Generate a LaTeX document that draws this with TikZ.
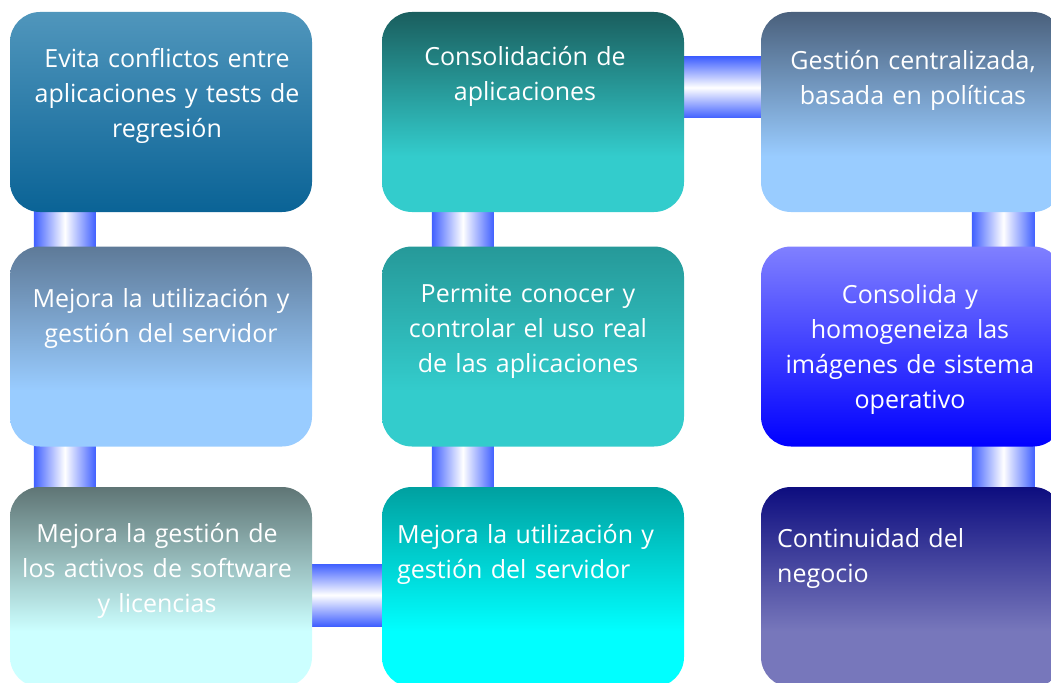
\documentclass[tikz,border=0pt]{standalone}
\usepackage{fontspec}
\setmainfont{Open Sans}
\usetikzlibrary{calc}
\pgfdeclarelayer{bg}
\pgfsetlayers{bg,main}
\definecolor{conn}{RGB}{64,96,255}
\definecolor{aT}{RGB}{80,150,188}\definecolor{aB}{RGB}{10,99,150}
\definecolor{bT}{RGB}{26,94,94}\definecolor{bB}{RGB}{51,204,204}
\definecolor{cT}{RGB}{74,96,124}\definecolor{cB}{RGB}{153,204,255}
\definecolor{dT}{RGB}{94,122,152}\definecolor{dB}{RGB}{153,204,255}
\definecolor{eT}{RGB}{38,153,153}\definecolor{eB}{RGB}{51,204,204}
\definecolor{fT}{RGB}{128,128,255}\definecolor{fB}{RGB}{0,0,255}
\definecolor{gT}{RGB}{95,117,117}\definecolor{gB}{RGB}{204,255,255}
\definecolor{hT}{RGB}{0,160,160}\definecolor{hB}{RGB}{0,255,255}
\definecolor{iT}{RGB}{13,13,127}\definecolor{iB}{RGB}{119,119,187}
\colorlet{boxtop}{aT}\colorlet{boxbot}{aB}
\pgfdeclareverticalshading[boxtop,boxbot]{boxsh}{100bp}{%
  color(0bp)=(boxbot); color(25bp)=(boxbot); color(39bp)=(boxbot);
  color(75bp)=(boxtop); color(100bp)=(boxtop)}
\tikzset{
  box/.style={rounded corners=30pt, minimum width=302pt, minimum height=200pt, inner sep=0pt, draw=none},
  fill2/.style 2 args={/utils/exec={\colorlet{boxtop}{#1}\colorlet{boxbot}{#2}}, shading=boxsh},
  lbl/.style={text=white, font=\fontsize{25}{35}\selectfont, inner sep=0pt, text width=300pt, align=center, anchor=base},
  lbll/.style={text=white, font=\fontsize{25}{35}\selectfont, inner sep=0pt, text width=290pt, align=left, anchor=base west},
  vconn/.style={left color=conn, right color=conn, middle color=white},
  hconn/.style={top color=conn, bottom color=conn, middle color=white}
}
\begin{document}
\begin{tikzpicture}[x=1pt,y=-1pt]
\useasboundingbox (0,0) rectangle (1051,682);
\clip (0,0) rectangle (1051,682);
% boxes
\node[box, top color=aT, bottom color=aB] (b1) at (161,112) {};
\node[box, fill2={bT}{bB}] (b2) at (533,112) {};
\node[box, fill2={cT}{cB}] (b3) at (912,112) {};
\node[box, fill2={dT}{dB}] (b4) at (161,346.5) {};
\node[box, fill2={eT}{eB}] (b5) at (533,346.5) {};
\node[box, top color=fT, bottom color=fB] (b6) at (912,346.5) {};
\node[box, fill2={gT}{gB}] (b7) at (161,587) {};
\node[box, fill2={hT}{hB}] (b8) at (533,587) {};
\node[box, fill2={iT}{iB}] (b9) at (912,587) {};
% connectors
\begin{pgfonlayer}{bg}
\path[vconn] ($(b1.south west)+(24,-5)$) rectangle ($(b4.north west)+(86,5)$);
\path[vconn] ($(b4.south west)+(24,-5)$) rectangle ($(b7.north west)+(86,5)$);
\path[hconn] ($(b7.east)+(-5,-23)$) rectangle ($(b8.west)+(5,39)$);
\path[vconn] ($(b8.north west)+(50,5)$) rectangle ($(b5.south west)+(112,-5)$);
\path[vconn] ($(b5.north west)+(50,5)$) rectangle ($(b2.south west)+(112,-5)$);
\path[hconn] ($(b2.east)+(-5,-55)$) rectangle ($(b3.west)+(5,6)$);
\path[vconn] ($(b3.south west)+(211,-5)$) rectangle ($(b6.north west)+(274,5)$);
\path[vconn] ($(b6.south west)+(211,-5)$) rectangle ($(b9.north west)+(274,5)$);
\end{pgfonlayer}
% labels
\node[lbl] (t1) at (167,68) {Evita conflictos entre\\aplicaciones y tests de\\regresión};
\node[lbl] (t2) at (525,66) {Consolidación de\\aplicaciones};
\node[lbl] (t3) at (913,70) {Gestión centralizada,\\basada en políticas};
\node[lbl] (t4) at (161,307) {Mejora la utilización y\\gestión del servidor};
\node[lbl] (t5) at (528,302) {Permite conocer y\\controlar el uso real\\de las aplicaciones};
\node[lbl] (t6) at (910,303) {Consolida y\\homogeneiza las\\imágenes de sistema\\operativo};
\node[lbl] (t7) at (157,542) {Mejora la gestión de\\los activos de software\\y licencias};
\node[lbll] (t8) at (397,543) {Mejora la utilización y\\gestión del servidor};
\node[lbll] (t9) at (777,547) {Continuidad del\\negocio};
\end{tikzpicture}
\end{document}
